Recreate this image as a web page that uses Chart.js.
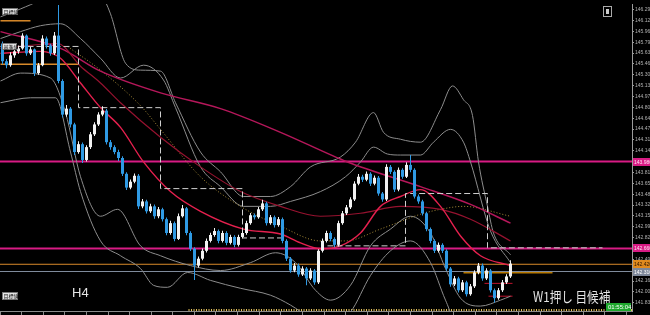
<!DOCTYPE html>
<html>
<head>
<meta charset="utf-8">
<script src="https://cdn.jsdelivr.net/npm/chart.js@4.4.0/dist/chart.umd.min.js"></script>
<style>
html, body { margin: 0; padding: 0; background: #000; }
canvas { display: block; background: #000; }
</style>
</head>
<body>
<canvas id="chart" width="650" height="315"></canvas>
<script>
// H4 candles, index 0 = leftmost bar
const OPEN = [145.775,145.505,145.445,145.595,145.655,145.700,145.895,145.625,145.685,145.325,
145.445,145.850,145.745,145.625,145.895,145.205,144.695,144.785,144.545,144.125,
144.245,144.005,144.200,144.395,144.545,144.695,144.755,144.275,144.200,144.125,
144.035,143.795,143.585,143.675,143.765,143.300,143.375,143.225,143.300,143.150,
143.255,143.105,142.895,143.045,142.805,143.150,143.270,142.895,142.655,142.400,
142.505,142.625,142.775,142.865,142.925,142.775,142.895,142.745,142.835,142.715,
142.835,142.895,143.045,143.165,143.135,143.255,143.345,143.045,143.135,143.015,
143.105,142.775,142.505,142.325,142.400,142.265,142.355,142.205,142.325,142.145,
142.625,142.775,142.895,142.805,142.715,143.045,143.195,143.285,143.405,143.645,
143.750,143.705,143.795,143.645,143.735,143.495,143.405,143.900,143.825,143.555,
143.855,143.750,143.930,143.855,143.450,143.375,143.195,142.955,142.775,142.625,
142.715,142.625,142.355,142.115,142.205,142.025,142.145,141.965,142.085,142.295,
142.400,142.205,142.325,142.025,141.905,142.025,142.145,142.235];

const HIGH = [145.805,145.540,145.640,145.700,145.745,145.930,145.910,145.720,145.700,145.480,
145.900,145.880,145.770,145.950,146.360,145.230,144.840,144.810,144.570,144.290,
144.270,144.230,144.430,144.580,144.730,144.820,144.780,144.310,144.230,144.160,
144.060,143.820,143.710,143.800,143.790,143.410,143.400,143.340,143.330,143.290,
143.280,143.130,143.080,143.070,143.190,143.320,143.290,142.920,142.680,142.540,
142.660,142.810,142.900,142.970,142.950,142.930,142.920,142.870,142.860,142.870,
142.930,143.080,143.200,143.190,143.290,143.400,143.370,143.170,143.160,143.140,
143.130,142.800,142.530,142.440,142.430,142.390,142.380,142.360,142.350,142.650,
142.810,142.930,142.920,142.830,143.080,143.230,143.320,143.440,143.680,143.790,
143.780,143.830,143.820,143.770,143.760,143.520,143.940,143.930,143.850,143.890,
143.880,143.970,144.080,143.880,143.480,143.400,143.220,142.980,142.800,142.750,
142.740,142.650,142.380,142.240,142.230,142.180,142.170,142.120,142.330,142.440,
142.430,142.360,142.350,142.050,142.060,142.180,142.270,142.480];

const LOW = [145.460,145.400,145.420,145.560,145.620,145.680,145.590,145.600,145.280,145.300,
145.430,145.700,145.590,145.600,145.170,144.650,144.660,144.500,144.080,144.100,
143.960,143.980,144.170,144.370,144.520,144.670,144.240,144.160,144.090,143.990,
143.760,143.550,143.560,143.650,143.260,143.270,143.190,143.200,143.110,143.120,
143.070,142.860,142.870,142.770,142.790,143.130,142.860,142.620,142.180,142.370,
142.480,142.600,142.750,142.840,142.740,142.750,142.710,142.720,142.680,142.690,
142.810,142.870,143.020,143.100,143.110,143.230,143.010,143.020,142.980,142.990,
142.740,142.470,142.290,142.300,142.230,142.240,142.100,142.180,142.110,142.120,
142.600,142.750,142.770,142.680,142.690,143.020,143.170,143.260,143.380,143.620,
143.670,143.680,143.610,143.620,143.460,143.370,143.380,143.790,143.520,143.530,
143.720,143.730,143.820,143.420,143.340,143.160,142.920,142.740,142.590,142.600,
142.590,142.320,142.080,142.090,141.990,142.000,141.930,141.940,142.060,142.270,
142.170,142.180,141.990,141.840,141.880,142.000,142.120,142.210];

const CLOSE = [145.505,145.445,145.595,145.655,145.700,145.895,145.625,145.685,145.325,145.445,
145.850,145.745,145.625,145.895,145.205,144.695,144.785,144.545,144.125,144.245,
144.005,144.200,144.395,144.545,144.695,144.755,144.275,144.200,144.125,144.035,
143.795,143.585,143.675,143.765,143.300,143.375,143.225,143.300,143.150,143.255,
143.105,142.895,143.045,142.805,143.150,143.270,142.895,142.655,142.400,142.505,
142.625,142.775,142.865,142.925,142.775,142.895,142.745,142.835,142.715,142.835,
142.895,143.045,143.165,143.135,143.255,143.345,143.045,143.135,143.015,143.105,
142.775,142.505,142.325,142.400,142.265,142.355,142.205,142.325,142.145,142.625,
142.775,142.895,142.805,142.715,143.045,143.195,143.285,143.405,143.645,143.750,
143.705,143.795,143.645,143.735,143.495,143.405,143.900,143.825,143.555,143.855,
143.750,143.930,143.855,143.450,143.375,143.195,142.955,142.775,142.625,142.715,
142.625,142.355,142.115,142.205,142.025,142.145,141.965,142.085,142.295,142.400,
142.205,142.325,142.025,141.905,142.025,142.145,142.235,142.430];

// indicator lines as [bar index, price]
const BB_UPPER2 = [[-0.5,146.18],[4.5,146.30],[9.5,146.45],[14.5,146.75],[19.5,146.90],[24.5,146.55],[27,146.225],[30.75,145.475],[34.5,145.37],[39.5,145.355],[43.25,144.875],[49.5,144.125],[54.5,143.825],[60.25,143.45],[67,143.45],[72,143.60],[77,143.90],[84.5,144.05],[88.25,144.275],[92.75,144.725],[95.25,144.425],[99.5,144.32],[104.5,144.275],[109.5,144.77],[112.5,145.13],[115.25,144.92],[117.5,144.68],[119,143.975],[121.25,143.30],[122.75,142.895],[127,142.565]];
const BB_UPPER1 = [[-0.5,145.85],[4.5,145.955],[9.5,146.045],[14.5,146.075],[19.5,145.85],[24.5,145.55],[29.5,145.25],[35.25,145.445],[40.25,145.22],[43.25,144.80],[49.5,143.90],[54.5,143.60],[60.25,143.30],[67,143.30],[72,143.375],[79.5,143.525],[85.75,143.75],[89.5,143.975],[92.75,144.20],[96.25,144.095],[99.5,144.08],[104.5,144.08],[107.75,144.275],[112,144.47],[115.25,144.275],[117,143.975],[122,142.925],[127,142.445]];
const BB_LOWER1 = [[-0.5,145.205],[4.5,145.325],[12,145.25],[15.75,144.725],[19.5,143.75],[24.5,143.15],[28.75,143.255],[34.5,142.70],[39.5,142.55],[47,142.40],[54.5,142.325],[62,142.445],[68.25,142.595],[73.25,142.445],[78.25,142.025],[82,141.875],[87,142.10],[92,142.70],[97,142.955],[102,143.15],[107,142.895],[110.75,142.355],[114.5,141.905],[119.5,141.785],[124.5,141.875],[127,141.935]];
const BB_LOWER2 = [[-0.5,144.875],[7,144.95],[13.25,144.95],[17,144.125],[19.5,143.525],[24.5,142.775],[29.5,142.55],[34.5,142.355],[37.75,142.10],[41.25,142.07],[46.25,142.295],[52,142.175],[59.5,142.055],[67,141.95],[72,141.80],[77,141.605],[82,141.50],[87,141.695],[92,142.25],[97,142.625],[102,142.775],[107,142.445],[110.75,141.875],[114.5,141.425],[127,141.425]];
const MA_SHORT = [[-0.5,145.625],[9.5,145.655],[14.5,145.55],[19.5,145.175],[24.5,144.80],[29.5,144.50],[35.25,143.975],[42,143.525],[49.5,143.225],[60.25,142.955],[69.5,142.88],[74.5,142.745],[79.5,142.655],[84.5,142.70],[89.5,142.895],[94.5,143.30],[99.5,143.45],[104.5,143.555],[109.5,143.30],[114.5,142.85],[119.5,142.55],[127,142.40]];
const MA_MIDDLE = [[-0.5,145.70],[13.75,145.775],[19.5,145.43],[24.5,145.175],[29.5,144.875],[39.5,144.35],[49.5,143.90],[59.5,143.525],[69.5,143.30],[79.5,143.15],[89.5,143.195],[99.5,143.30],[109.5,143.255],[117,143.105],[127,142.775]];
const MA_LONG = [[-0.5,145.955],[14.5,145.70],[24.5,145.355],[39.5,145.025],[54.5,144.785],[69.5,144.425],[86.25,143.975],[104.5,143.60],[117,143.33],[127,143.045]];
const MA_DOTTED = [[16.25,145.73],[24.5,145.37],[34.5,144.83],[39.5,144.47],[49.5,143.75],[59.5,143.30],[69.5,143.00],[79.5,142.775],[85.75,142.775],[94.5,142.955],[104.5,143.18],[109.5,143.255],[115.25,143.30],[127,143.15]];
// dashed steps of the higher timeframe, null = gap
const HTF_STEPS = [[-0.5,145.73],[19,145.73],[19,144.80],[39.5,144.80],[39.5,143.57],[60,143.57],[60,142.82],[70.75,142.82],[75,null],[81.25,142.70],[100.75,142.70],[100.75,143.495],[121.25,143.495],[121.25,142.67],[150,142.67]];

const MAGENTA_LEVELS = [143.980, 142.660];
const ORANGE_LEVEL = 142.420;
const GRAY_LEVEL = 142.310;
const ORANGE_SEGMENTS = [[-0.5, 7, 146.12], [-0.5, 19, 145.46]];
const RED_STUBS = [[120.5, 127.5, 142.13], [121.5, 127.5, 141.935]];
const BROWN_SEGMENT = [115.25, 137.5, 142.295];
const BOTTOM_DOTS = [46.5, 157.4, 141.725];

const Y_TICKS = [146.290,146.125,145.960,145.795,145.630,145.465,145.300,145.135,144.970,144.805,
144.640,144.475,144.310,144.145,143.980,143.815,143.650,143.485,143.320,143.155,
142.990,142.825,142.660,142.495,142.330,142.165,142.000,141.835];

const AXIS_TAGS = [
    [143.980, '#d81b84', '#ffe0f2'],
    [142.660, '#d81b84', '#ffe0f2'],
    [142.420, '#e08a1e', '#2a1400'],
    [142.310, '#7d8799', '#ffffff']
];

const X_MIN = -0.625, X_MAX = 157.375;
const BULL = '#f2f2f2', BEAR = '#2f9ae4';

function toPoints(pairs) {
    return pairs.map(p => ({ x: p[0], y: p[1] }));
}

function lineSet(pairs, color, width, extra) {
    return Object.assign({
        type: 'line',
        data: toPoints(pairs),
        borderColor: color,
        borderWidth: width,
        pointRadius: 0,
        fill: false,
        spanGaps: false
    }, extra || {});
}

const candleColors = CLOSE.map((c, i) => c >= OPEN[i] ? BULL : BEAR);

const datasets = [
    {
        type: 'bar',
        data: OPEN.map((o, i) => ({ x: i, y: [o, CLOSE[i]] })),
        backgroundColor: candleColors,
        barThickness: 3,
        grouped: false,
        inflateAmount: 0,
        borderWidth: 0
    },
    {
        type: 'bar',
        data: LOW.map((l, i) => ({ x: i, y: [l, HIGH[i]] })),
        backgroundColor: candleColors,
        barThickness: 1,
        grouped: false,
        inflateAmount: 0,
        borderWidth: 0
    },
    lineSet(HTF_STEPS, '#cfcfcf', 1, { borderDash: [6, 3] }),
    lineSet(MA_SHORT, '#e5204e', 1.4, { cubicInterpolationMode: 'monotone' }),
    lineSet(MA_MIDDLE, '#96122f', 1.2, { cubicInterpolationMode: 'monotone' }),
    lineSet(MA_LONG, '#b5175a', 1.5, { cubicInterpolationMode: 'monotone' }),
    lineSet(MA_DOTTED, '#a88c38', 1, { borderDash: [1, 2], cubicInterpolationMode: 'monotone' }),
    lineSet(BB_UPPER2, '#8c8c8c', 1, { cubicInterpolationMode: 'monotone' }),
    lineSet(BB_UPPER1, '#8c8c8c', 1, { cubicInterpolationMode: 'monotone' }),
    lineSet(BB_LOWER1, '#8c8c8c', 1, { cubicInterpolationMode: 'monotone' }),
    lineSet(BB_LOWER2, '#8c8c8c', 1, { cubicInterpolationMode: 'monotone' }),
    lineSet([[X_MIN, MAGENTA_LEVELS[0]], [X_MAX, MAGENTA_LEVELS[0]]], '#d81b84', 2),
    lineSet([[X_MIN, MAGENTA_LEVELS[1]], [X_MAX, MAGENTA_LEVELS[1]]], '#d81b84', 2),
    lineSet([[X_MIN, ORANGE_LEVEL], [X_MAX, ORANGE_LEVEL]], '#d98a2a', 1),
    lineSet([[X_MIN, GRAY_LEVEL], [X_MAX, GRAY_LEVEL]], '#7f8b9c', 1),
    lineSet([[BROWN_SEGMENT[0], BROWN_SEGMENT[2]], [BROWN_SEGMENT[1], BROWN_SEGMENT[2]]], '#b87800', 2),
    lineSet([[BOTTOM_DOTS[0], BOTTOM_DOTS[2]], [BOTTOM_DOTS[1], BOTTOM_DOTS[2]]], '#e6c35a', 2, { borderDash: [1, 1.5] })
];
ORANGE_SEGMENTS.forEach(s => {
    datasets.push(lineSet([[s[0], s[2]], [s[1], s[2]]], '#d98a2a', 1.5));
});
RED_STUBS.forEach(s => {
    datasets.push(lineSet([[s[0], s[2]], [s[1], s[2]]], '#c0142e', 1));
});

function labelBox(ctx, x, y, w, h, text) {
    ctx.fillStyle = '#e6e6e6';
    ctx.fillRect(x, y, w, h);
    ctx.strokeStyle = '#777';
    ctx.lineWidth = 1;
    ctx.strokeRect(x + 0.5, y + 0.5, w - 1, h - 1);
    ctx.fillStyle = '#111';
    ctx.font = '5px "Noto Sans CJK JP"';
    ctx.textBaseline = 'middle';
    ctx.textAlign = 'left';
    ctx.fillText(text, x + 1.5, y + h / 2 + 0.5);
}

const overlay = {
    id: 'overlay',
    afterDraw(chart) {
        const ctx = chart.ctx;
        const yScale = chart.scales.y;
        ctx.save();

        AXIS_TAGS.forEach(tag => {
            const py = Math.round(yScale.getPixelForValue(tag[0]));
            ctx.fillStyle = tag[1];
            ctx.fillRect(633, py - 4, 17, 8);
            ctx.fillStyle = tag[2];
            ctx.font = '5px "Liberation Sans"';
            ctx.textBaseline = 'middle';
            ctx.textAlign = 'left';
            ctx.fillText(tag[0].toFixed(3), 634, py + 0.5);
        });

        labelBox(ctx, 2, 8, 16, 7, '目標値');
        labelBox(ctx, 2, 43, 15, 7, '基準値');
        labelBox(ctx, 2, 292, 16, 8, '目標値');

        // window icon top right
        ctx.strokeStyle = '#aaa';
        ctx.strokeRect(603.5, 6.5, 8, 10);
        ctx.fillStyle = '#ccc';
        ctx.fillRect(606, 9, 3, 5);

        ctx.fillStyle = '#e4e4e4';
        ctx.textBaseline = 'alphabetic';
        ctx.font = '13px "Liberation Sans"';
        ctx.fillText('H4', 72, 297);

        ctx.save();
        ctx.translate(533, 302);
        ctx.scale(0.83, 1);
        ctx.font = '14px "Noto Sans CJK JP"';
        ctx.fillText('W1押し 目候補', 0, 0);
        ctx.restore();

        ctx.fillStyle = '#1fa82e';
        ctx.fillRect(606, 303, 25, 8);
        ctx.fillStyle = '#ffffff';
        ctx.font = '6px "Liberation Sans"';
        ctx.textBaseline = 'middle';
        ctx.fillText('01:55:04', 608, 307.5);

        ctx.restore();
    }
};

new Chart(document.getElementById('chart').getContext('2d'), {
    type: 'bar',
    data: { datasets: datasets },
    options: {
        responsive: false,
        animation: false,
        devicePixelRatio: 1,
        layout: { padding: 0 },
        plugins: { legend: { display: false }, tooltip: { enabled: false } },
        scales: {
            x: {
                type: 'linear',
                min: X_MIN,
                max: X_MAX,
                offset: false,
                position: 'bottom',
                ticks: { display: false },
                grid: { offset: false, drawOnChartArea: false, tickLength: 4, color: '#8a8a8a' },
                border: { color: '#8a8a8a' },
                afterBuildTicks: function (scale) {
                    const t = [];
                    for (let v = X_MIN; v <= X_MAX; v += 5.4) t.push({ value: v });
                    scale.ticks = t;
                },
                afterFit: function (scale) { scale.height = 4; }
            },
            y: {
                type: 'linear',
                position: 'right',
                min: 141.71,
                max: 146.375,
                ticks: {
                    autoSkip: false,
                    color: '#b0b0b0',
                    font: { size: 5, family: 'Liberation Sans' },
                    padding: 1,
                    callback: v => v.toFixed(3)
                },
                grid: { drawOnChartArea: false, tickLength: 2, color: '#9a9a9a' },
                border: { color: '#9a9a9a' },
                afterBuildTicks: function (scale) {
                    scale.ticks = Y_TICKS.map(v => ({ value: v }));
                },
                afterFit: function (scale) { scale.width = 18; }
            }
        }
    },
    plugins: [overlay]
});
</script>
</body>
</html>
